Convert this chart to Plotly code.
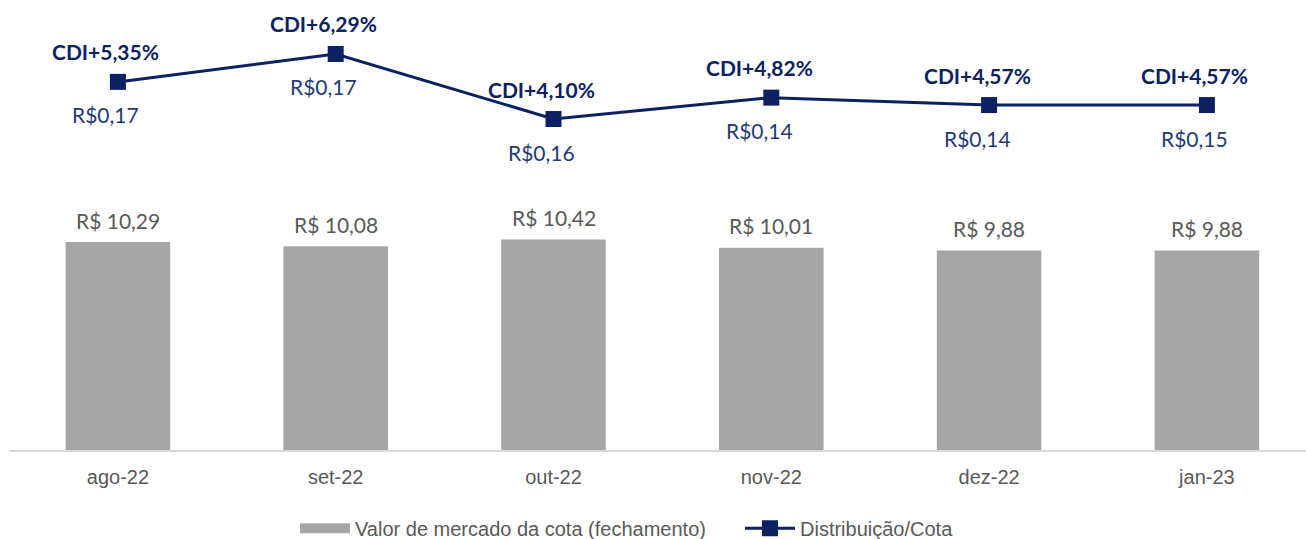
import plotly.graph_objects as go

categories = ["ago-22", "set-22", "out-22", "nov-22", "dez-22", "jan-23"]
market_value = [10.29, 10.08, 10.42, 10.01, 9.88, 9.88]
market_labels = ["R$ 10,29", "R$ 10,08", "R$ 10,42", "R$ 10,01", "R$ 9,88", "R$ 9,88"]
cdi_spread = [5.35, 6.29, 4.10, 4.82, 4.57, 4.57]
cdi_labels = ["CDI+5,35%", "CDI+6,29%", "CDI+4,10%", "CDI+4,82%", "CDI+4,57%", "CDI+4,57%"]
dist_labels = ["R$0,17", "R$0,17", "R$0,16", "R$0,14", "R$0,14", "R$0,15"]

NAVY = "#0B2161"
GREY_BAR = "#A6A6A6"
TXT_GREY = "#595959"
SANS = "Liberation Sans, Arial"

fig = go.Figure()
fig.add_trace(go.Bar(
    x=categories, y=market_value, name="Valor de mercado da cota (fechamento)",
    marker=dict(color=GREY_BAR, line=dict(width=0)), width=0.48, yaxis="y",
    showlegend=False,
))
# legend entry for bars (wide grey swatch)
fig.add_trace(go.Scatter(
    x=[None], y=[None], mode="lines", name="Valor de mercado da cota (fechamento)",
    line=dict(color=GREY_BAR, width=12),
))
fig.add_trace(go.Scatter(
    x=categories, y=cdi_spread, name="Distribuição/Cota", yaxis="y2",
    mode="lines+markers", line=dict(color=NAVY, width=3),
    marker=dict(symbol="square", size=16, color=NAVY), cliponaxis=False,
))

annotations = []
for c, v, t in zip(categories, market_value, market_labels):
    annotations.append(dict(x=c, y=v, xref="x", yref="y", text=t, showarrow=False,
                            yshift=22, font=dict(family="Lato", size=21, color=TXT_GREY)))
for c, v, t in zip(categories, cdi_spread, cdi_labels):
    annotations.append(dict(x=c, y=v, xref="x", yref="y2", text="<b>" + t + "</b>", showarrow=False,
                            yshift=30, xshift=-12, font=dict(family="Lato", size=21, color=NAVY)))
for c, v, t in zip(categories, cdi_spread, dist_labels):
    annotations.append(dict(x=c, y=v, xref="x", yref="y2", text=t, showarrow=False,
                            yshift=-33, xshift=-12, font=dict(family="Lato", size=21, color="#1F3A75")))

fig.update_layout(
    width=1306, height=539,
    margin=dict(l=9, r=0, t=10, b=89, autoexpand=False),
    paper_bgcolor="white", plot_bgcolor="white",
    showlegend=True,
    legend=dict(orientation="h", x=295 / 1306, xanchor="left", xref="container",
                y=0.02, yanchor="middle", yref="container",
                font=dict(family=SANS, size=20, color=TXT_GREY),
                traceorder="normal", itemwidth=50,
                entrywidth=380, entrywidthmode="pixels"),
    xaxis=dict(range=[-0.5, 5.455], showgrid=False, showline=True, linecolor="#D9D9D9", linewidth=1.5,
               ticks="", tickfont=dict(family=SANS, size=20, color=TXT_GREY), ticklabelstandoff=8),
    yaxis=dict(range=[0, 21.78], visible=False, showgrid=False),
    yaxis2=dict(range=[-7.04, 7.77], overlaying="y", side="right", visible=False, showgrid=False),
    annotations=annotations,
)
fig.write_html("out.html", config={"displayModeBar": False},
               post_script="document.body.style.margin='0';")
